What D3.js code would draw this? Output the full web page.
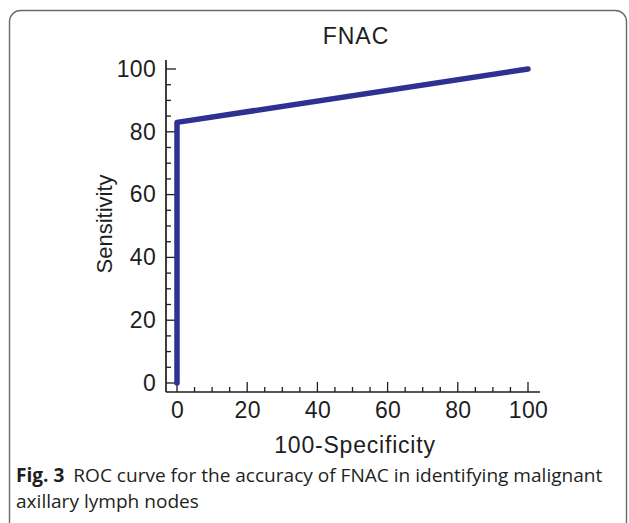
<!DOCTYPE html>
<html>
<head>
<meta charset="utf-8">
<script src="https://cdn.jsdelivr.net/npm/d3@7"></script>
<style>
  html, body { margin: 0; padding: 0; background: #fff; }
  svg { display: block; }
  .arial { font-family: "Liberation Sans", Arial, Helvetica, sans-serif; }
  .cap { font-family: "Open Sans", "Noto Sans", sans-serif; }
</style>
</head>
<body>
<svg id="chart" width="629" height="523"></svg>
<script>
// ---- data ----
const chartTitle = "FNAC";
const xLabel = "100-Specificity";
const yLabel = "Sensitivity";
const fpr = [0, 0, 100];          // 100-Specificity
const tpr = [0, 83, 100];         // Sensitivity
const xTickValues = [0, 20, 40, 60, 80, 100];
const yTickValues = [0, 20, 40, 60, 80, 100];
const minorStep = 5;
const captionBold = "Fig. 3";
const captionLine1 = "ROC curve for the accuracy of FNAC in identifying malignant";
const captionLine2 = "axillary lymph nodes";

// ---- layout ----
const svg = d3.select("#chart");
const x = d3.scaleLinear().domain([0, 100]).range([177, 528]);
const y = d3.scaleLinear().domain([0, 100]).range([383, 69]);
const axisX0 = 166, axisX1 = 540, axisY0 = 392, axisY1 = 60;
const ink = "#1e1e1e";

// frame
svg.append("rect")
  .attr("x", 9.5).attr("y", 10.5).attr("width", 617).attr("height", 530)
  .attr("rx", 11).attr("ry", 11)
  .attr("fill", "none").attr("stroke", "#6b6b6b").attr("stroke-width", 1.4);

// title
svg.append("text").attr("class", "arial")
  .attr("x", 356).attr("y", 44)
  .attr("text-anchor", "middle")
  .attr("font-size", 23)
  .attr("letter-spacing", "1px")
  .attr("fill", ink)
  .text(chartTitle);

// axis lines
svg.append("line").attr("x1", axisX0).attr("x2", axisX1).attr("y1", axisY0).attr("y2", axisY0)
  .attr("stroke", ink).attr("stroke-width", 1.7);
svg.append("line").attr("x1", axisX0).attr("x2", axisX0).attr("y1", axisY1).attr("y2", axisY0)
  .attr("stroke", ink).attr("stroke-width", 1.7);

// tick marks (inward), major and minor
const allTicks = d3.range(0, 100 + minorStep / 2, minorStep);
svg.append("g").selectAll("line").data(allTicks).join("line")
  .attr("x1", d => x(d)).attr("x2", d => x(d))
  .attr("y1", axisY0).attr("y2", d => axisY0 - (xTickValues.includes(d) ? 10 : 5))
  .attr("stroke", ink).attr("stroke-width", 1.3);
svg.append("g").selectAll("line").data(allTicks).join("line")
  .attr("y1", d => y(d)).attr("y2", d => y(d))
  .attr("x1", axisX0).attr("x2", d => axisX0 + (yTickValues.includes(d) ? 10 : 5))
  .attr("stroke", ink).attr("stroke-width", 1.3);

// tick labels via d3 axes
const xAxis = d3.axisBottom(x).tickValues(xTickValues).tickSize(0).tickPadding(10).tickFormat(d3.format("d"));
const gx = svg.append("g").attr("transform", `translate(0,${axisY0})`).call(xAxis);
gx.select(".domain").remove();
gx.attr("font-family", null).attr("font-size", null);
gx.selectAll("text").attr("class", "arial").attr("font-size", 23)
  .attr("letter-spacing", "0.3px").attr("fill", ink);

const yAxis = d3.axisLeft(y).tickValues(yTickValues).tickSize(0).tickPadding(10).tickFormat(d3.format("d"));
const gy = svg.append("g").attr("transform", `translate(${axisX0},0)`).call(yAxis);
gy.select(".domain").remove();
gy.attr("font-family", null).attr("font-size", null);
gy.selectAll("text").attr("class", "arial").attr("font-size", 23)
  .attr("letter-spacing", "0.3px").attr("fill", ink);

// axis titles
svg.append("text").attr("class", "arial")
  .attr("x", 355).attr("y", 453)
  .attr("text-anchor", "middle")
  .attr("font-size", 23)
  .attr("letter-spacing", "0.8px").attr("fill", ink)
  .text(xLabel);
svg.append("text").attr("class", "arial")
  .attr("transform", "translate(112,224) rotate(-90)")
  .attr("text-anchor", "middle")
  .attr("font-size", 22)
  .attr("fill", ink)
  .text(yLabel);

// ROC curve
const pts = fpr.map((v, i) => [v, tpr[i]]);
svg.append("path")
  .datum(pts)
  .attr("d", d3.line().x(d => x(d[0])).y(d => y(d[1])))
  .attr("fill", "none")
  .attr("stroke", "#2e3192")
  .attr("stroke-width", 5.5)
  .attr("stroke-linejoin", "round")
  .attr("stroke-linecap", "round");

// caption (horizontally condensed to the reference's measure)
function fitText(sel, left, targetWidth) {
  const w = sel.node().getBBox().width;
  const k = targetWidth / w;
  sel.attr("x", 0).attr("transform", `translate(${left},0) scale(${k},1)`);
}
const cap1 = svg.append("text").attr("class", "cap")
  .attr("x", 0).attr("y", 482)
  .attr("font-size", 19).attr("fill", "#231f20");
cap1.append("tspan").attr("font-weight", "bold").text(captionBold);
cap1.append("tspan").attr("dx", 9).text(captionLine1);
fitText(cap1, 16, 587);

const cap2 = svg.append("text").attr("class", "cap")
  .attr("x", 0).attr("y", 508)
  .attr("font-size", 19).attr("fill", "#231f20")
  .text(captionLine2);
fitText(cap2, 16, 183);
</script>
</body>
</html>
